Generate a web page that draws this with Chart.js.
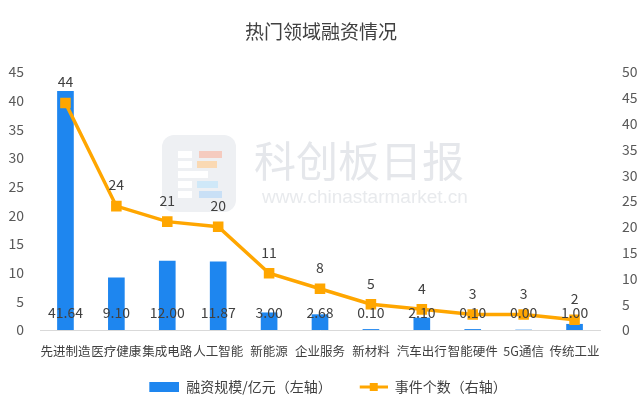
<!DOCTYPE html>
<html>
<head>
<meta charset="utf-8">
<script src="https://cdn.jsdelivr.net/npm/chart.js@4.4.0/dist/chart.umd.min.js"></script>
<style>
  html, body { margin: 0; padding: 0; background: #fff; }
  #wrap { width: 640px; height: 411px; }
</style>
</head>
<body>
<div id="wrap"><canvas id="c" width="640" height="411"></canvas></div>
<script>
// 热门领域融资情况
const categories = ['先进制造', '医疗健康', '集成电路', '人工智能', '新能源', '企业服务', '新材料', '汽车出行', '智能硬件', '5G通信', '传统工业'];
const amounts = [41.64, 9.10, 12.00, 11.87, 3.00, 2.68, 0.10, 2.10, 0.10, 0.00, 1.00];   // 亿元, left axis
const counts = [44, 24, 21, 20, 11, 8, 5, 4, 3, 3, 2];                                     // right axis
const leftTicks = [0, 5, 10, 15, 20, 25, 30, 35, 40, 45];
const rightTicks = [0, 5, 10, 15, 20, 25, 30, 35, 40, 45, 50];

const BLUE = '#1e86ef';
const ORANGE = '#ffa600';
const FONT = "'Noto Sans CJK SC', 'Noto Sans', sans-serif";

// legend swatches (left margin gives the gap between items)
function makeSwatch(kind) {
    const cv = document.createElement('canvas');
    cv.width = 46; cv.height = 12;
    const g = cv.getContext('2d');
    if (kind === 'bar') {
        g.fillStyle = BLUE;
        g.fillRect(16, 1, 30, 10);
    } else {
        g.strokeStyle = ORANGE;
        g.lineWidth = 3;
        g.beginPath(); g.moveTo(18, 6); g.lineTo(46, 6); g.stroke();
        g.fillStyle = ORANGE;
        g.fillRect(28, 2, 8, 8);
    }
    return cv;
}

// title + watermark
const decor = {
    id: 'decor',
    beforeDatasetsDraw(chart) {
        const ctx = chart.ctx;
        ctx.save();
        // logo
        ctx.fillStyle = '#eef0f3';
        ctx.beginPath();
        ctx.roundRect(162, 135, 74, 77, 12);
        ctx.fill();
        ctx.fillStyle = '#ffffff';
        [[151, 14], [161, 14], [171, 30], [181, 14], [191, 14]].forEach(([y, w]) => ctx.fillRect(178, y, w, 7));
        ctx.fillStyle = '#f5cbbf'; ctx.fillRect(199, 151, 23, 7);
        ctx.fillStyle = '#fad9b3'; ctx.fillRect(197, 161, 20, 7);
        ctx.fillStyle = '#cfe8f8'; ctx.fillRect(197, 181, 21, 7);
        ctx.fillStyle = '#c9e0f6'; ctx.fillRect(199, 191, 23, 7);
        // text
        ctx.fillStyle = '#e5e7eb';
        ctx.font = "42px " + FONT;
        ctx.textAlign = 'left';
        ctx.textBaseline = 'alphabetic';
        ctx.fillText('科创板日报', 254, 177);
        ctx.fillStyle = '#e8eaed';
        ctx.font = "19px 'Liberation Sans', Arial, sans-serif";
        ctx.fillText('www.chinastarmarket.cn', 262, 203);
        ctx.restore();
    },
    afterDraw(chart) {
        const ctx = chart.ctx;
        ctx.save();
        ctx.fillStyle = '#404040';
        ctx.font = "19px " + FONT;
        ctx.textAlign = 'center';
        ctx.textBaseline = 'middle';
        ctx.fillText('热门领域融资情况', 321, 32);
        ctx.restore();
    }
};

// value labels
const valueLabels = {
    id: 'valueLabels',
    afterDatasetsDraw(chart) {
        const ctx = chart.ctx;
        ctx.save();
        ctx.fillStyle = '#404040';
        ctx.font = "14px " + FONT;
        ctx.textAlign = 'center';
        ctx.textBaseline = 'middle';
        const yScale = chart.scales.y;
        chart.getDatasetMeta(0).data.forEach((bar, i) => {
            ctx.fillText(amounts[i].toFixed(2), bar.x, yScale.getPixelForValue(0) - 17);
        });
        chart.getDatasetMeta(1).data.forEach((pt, i) => {
            ctx.fillText(String(counts[i]), pt.x, pt.y - 21);
        });
        ctx.restore();
    }
};

const swatches = [makeSwatch('bar'), makeSwatch('line')];

new Chart(document.getElementById('c'), {
    type: 'bar',
    data: {
        labels: categories,
        datasets: [{
            type: 'bar',
            label: '融资规模/亿元（左轴）',
            data: amounts,
            backgroundColor: BLUE,
            barThickness: 16,
            yAxisID: 'y',
            order: 2
        }, {
            type: 'line',
            label: '事件个数（右轴）',
            data: counts,
            borderColor: ORANGE,
            backgroundColor: ORANGE,
            borderWidth: 3.5,
            pointStyle: 'rect',
            pointRadius: 5,
            pointHoverRadius: 5,
            tension: 0,
            yAxisID: 'y1',
            order: 1
        }]
    },
    options: {
        responsive: false,
        animation: false,
        layout: { padding: { top: 72, left: 0, right: 0, bottom: 7 } },
        plugins: {
            title: { display: false },
            tooltip: { enabled: false },
            legend: {
                position: 'bottom',
                labels: {
                    usePointStyle: true,
                    pointStyleWidth: 46,
                    padding: 10,
                    color: '#404040',
                    font: { size: 14, family: FONT },
                    generateLabels(chart) {
                        return chart.data.datasets.map((ds, i) => ({
                            text: ds.label,
                            pointStyle: swatches[i],
                            fillStyle: 'transparent',
                            strokeStyle: 'transparent',
                            lineWidth: 0,
                            fontColor: '#404040',
                            datasetIndex: i,
                            hidden: false
                        }));
                    }
                }
            }
        },
        scales: {
            x: {
                grid: { display: false, drawTicks: false },
                border: { color: '#d9d9d9', width: 1 },
                ticks: { color: '#404040', font: { size: 12.5, family: FONT }, padding: 14, maxRotation: 0, autoSkip: false },
                afterFit(s) { s.height = 40; }
            },
            y: {
                position: 'left',
                min: 0, max: 45,
                afterBuildTicks(s) { s.ticks = leftTicks.map(v => ({ value: v })); },
                grid: { display: false },
                border: { display: false },
                ticks: { color: '#595959', font: { size: 14, family: FONT }, padding: 8 },
                afterFit(s) { s.width = 40; }
            },
            y1: {
                position: 'right',
                min: 0, max: 50,
                afterBuildTicks(s) { s.ticks = rightTicks.map(v => ({ value: v })); },
                grid: { display: false },
                border: { display: false },
                ticks: { color: '#595959', font: { size: 14, family: FONT }, padding: 14 },
                afterFit(s) { s.width = 40; }
            }
        }
    },
    plugins: [decor, valueLabels]
});
</script>
</body>
</html>
